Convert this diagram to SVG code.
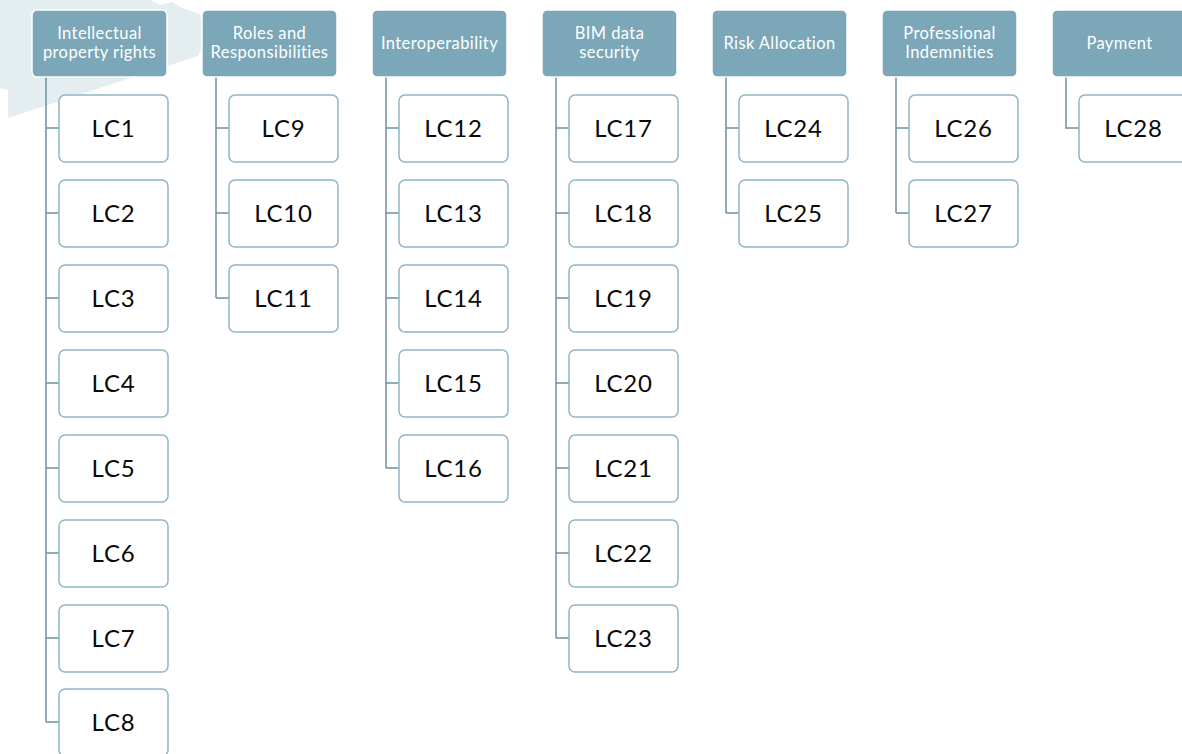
<svg xmlns="http://www.w3.org/2000/svg" width="1182" height="754" viewBox="0 0 1182 754">
<style>
.hd{fill:#7ba7b9;stroke:#ffffff;stroke-width:1.5}
.ht{fill:#ffffff;font-family:Lato,"Liberation Sans",sans-serif;font-size:16.5px;font-weight:400;letter-spacing:0.4px;text-anchor:middle}
.ch{fill:#ffffff;stroke:#8fb6c6;stroke-width:1.5}
.ct{fill:#0a0a0a;font-family:Lato,"Liberation Sans",sans-serif;font-size:24px;font-weight:400;letter-spacing:0.8px;text-anchor:middle}
.cn{fill:none;stroke:#6f909d;stroke-width:1.5}
</style>
<rect width="1182" height="754" fill="#ffffff"/>
<path d="M0,0 L150,0 L160,5 L172,2 L182,8 L200,14 L205,40 L198,56 L8,118 L8,90 L0,88 Z" fill="#e4edf0"/>
<g id="connectors">
<path class="cn" d="M46,77 V722 M46,128 H59 M46,213 H59 M46,298 H59 M46,383 H59 M46,468 H59 M46,553 H59 M46,638 H59 M46,722 H59"/>
<path class="cn" d="M216,77 V298 M216,128 H229 M216,213 H229 M216,298 H229"/>
<path class="cn" d="M386,77 V468 M386,128 H399 M386,213 H399 M386,298 H399 M386,383 H399 M386,468 H399"/>
<path class="cn" d="M556,77 V638 M556,128 H569 M556,213 H569 M556,298 H569 M556,383 H569 M556,468 H569 M556,553 H569 M556,638 H569"/>
<path class="cn" d="M726,77 V213 M726,128 H739 M726,213 H739"/>
<path class="cn" d="M896,77 V213 M896,128 H909 M896,213 H909"/>
<path class="cn" d="M1066,77 V128 H1079"/>
</g>
<g id="h1"><rect class="hd" x="32" y="10" width="135" height="67" rx="5"/><text class="ht" x="99.5" y="39">Intellectual</text><text class="ht" x="99.5" y="58">property rights</text></g>
<g id="h2"><rect class="hd" x="202" y="10" width="135" height="67" rx="5"/><text class="ht" x="269.5" y="39">Roles and</text><text class="ht" x="269.5" y="58">Responsibilities</text></g>
<g id="h3"><rect class="hd" x="372" y="10" width="135" height="67" rx="5"/><text class="ht" x="439.5" y="49">Interoperability</text></g>
<g id="h4"><rect class="hd" x="542" y="10" width="135" height="67" rx="5"/><text class="ht" x="609.5" y="39">BIM data</text><text class="ht" x="609.5" y="58">security</text></g>
<g id="h5"><rect class="hd" x="712" y="10" width="135" height="67" rx="5"/><text class="ht" x="779.5" y="49">Risk Allocation</text></g>
<g id="h6"><rect class="hd" x="882" y="10" width="135" height="67" rx="5"/><text class="ht" x="949.5" y="39">Professional</text><text class="ht" x="949.5" y="58">Indemnities</text></g>
<g id="h7"><rect class="hd" x="1052" y="10" width="135" height="67" rx="5"/><text class="ht" x="1119.5" y="49">Payment</text></g>
<g id="lc1"><rect class="ch" x="59" y="95" width="109" height="67" rx="6"/><text class="ct" x="113.5" y="137">LC1</text></g>
<g id="lc2"><rect class="ch" x="59" y="180" width="109" height="67" rx="6"/><text class="ct" x="113.5" y="222">LC2</text></g>
<g id="lc3"><rect class="ch" x="59" y="265" width="109" height="67" rx="6"/><text class="ct" x="113.5" y="307">LC3</text></g>
<g id="lc4"><rect class="ch" x="59" y="350" width="109" height="67" rx="6"/><text class="ct" x="113.5" y="392">LC4</text></g>
<g id="lc5"><rect class="ch" x="59" y="435" width="109" height="67" rx="6"/><text class="ct" x="113.5" y="477">LC5</text></g>
<g id="lc6"><rect class="ch" x="59" y="520" width="109" height="67" rx="6"/><text class="ct" x="113.5" y="562">LC6</text></g>
<g id="lc7"><rect class="ch" x="59" y="605" width="109" height="67" rx="6"/><text class="ct" x="113.5" y="647">LC7</text></g>
<g id="lc8"><rect class="ch" x="59" y="689" width="109" height="67" rx="6"/><text class="ct" x="113.5" y="731">LC8</text></g>
<g id="lc9"><rect class="ch" x="229" y="95" width="109" height="67" rx="6"/><text class="ct" x="283.5" y="137">LC9</text></g>
<g id="lc10"><rect class="ch" x="229" y="180" width="109" height="67" rx="6"/><text class="ct" x="283.5" y="222">LC10</text></g>
<g id="lc11"><rect class="ch" x="229" y="265" width="109" height="67" rx="6"/><text class="ct" x="283.5" y="307">LC11</text></g>
<g id="lc12"><rect class="ch" x="399" y="95" width="109" height="67" rx="6"/><text class="ct" x="453.5" y="137">LC12</text></g>
<g id="lc13"><rect class="ch" x="399" y="180" width="109" height="67" rx="6"/><text class="ct" x="453.5" y="222">LC13</text></g>
<g id="lc14"><rect class="ch" x="399" y="265" width="109" height="67" rx="6"/><text class="ct" x="453.5" y="307">LC14</text></g>
<g id="lc15"><rect class="ch" x="399" y="350" width="109" height="67" rx="6"/><text class="ct" x="453.5" y="392">LC15</text></g>
<g id="lc16"><rect class="ch" x="399" y="435" width="109" height="67" rx="6"/><text class="ct" x="453.5" y="477">LC16</text></g>
<g id="lc17"><rect class="ch" x="569" y="95" width="109" height="67" rx="6"/><text class="ct" x="623.5" y="137">LC17</text></g>
<g id="lc18"><rect class="ch" x="569" y="180" width="109" height="67" rx="6"/><text class="ct" x="623.5" y="222">LC18</text></g>
<g id="lc19"><rect class="ch" x="569" y="265" width="109" height="67" rx="6"/><text class="ct" x="623.5" y="307">LC19</text></g>
<g id="lc20"><rect class="ch" x="569" y="350" width="109" height="67" rx="6"/><text class="ct" x="623.5" y="392">LC20</text></g>
<g id="lc21"><rect class="ch" x="569" y="435" width="109" height="67" rx="6"/><text class="ct" x="623.5" y="477">LC21</text></g>
<g id="lc22"><rect class="ch" x="569" y="520" width="109" height="67" rx="6"/><text class="ct" x="623.5" y="562">LC22</text></g>
<g id="lc23"><rect class="ch" x="569" y="605" width="109" height="67" rx="6"/><text class="ct" x="623.5" y="647">LC23</text></g>
<g id="lc24"><rect class="ch" x="739" y="95" width="109" height="67" rx="6"/><text class="ct" x="793.5" y="137">LC24</text></g>
<g id="lc25"><rect class="ch" x="739" y="180" width="109" height="67" rx="6"/><text class="ct" x="793.5" y="222">LC25</text></g>
<g id="lc26"><rect class="ch" x="909" y="95" width="109" height="67" rx="6"/><text class="ct" x="963.5" y="137">LC26</text></g>
<g id="lc27"><rect class="ch" x="909" y="180" width="109" height="67" rx="6"/><text class="ct" x="963.5" y="222">LC27</text></g>
<g id="lc28"><rect class="ch" x="1079" y="95" width="109" height="67" rx="6"/><text class="ct" x="1133.5" y="137">LC28</text></g>
</svg>
